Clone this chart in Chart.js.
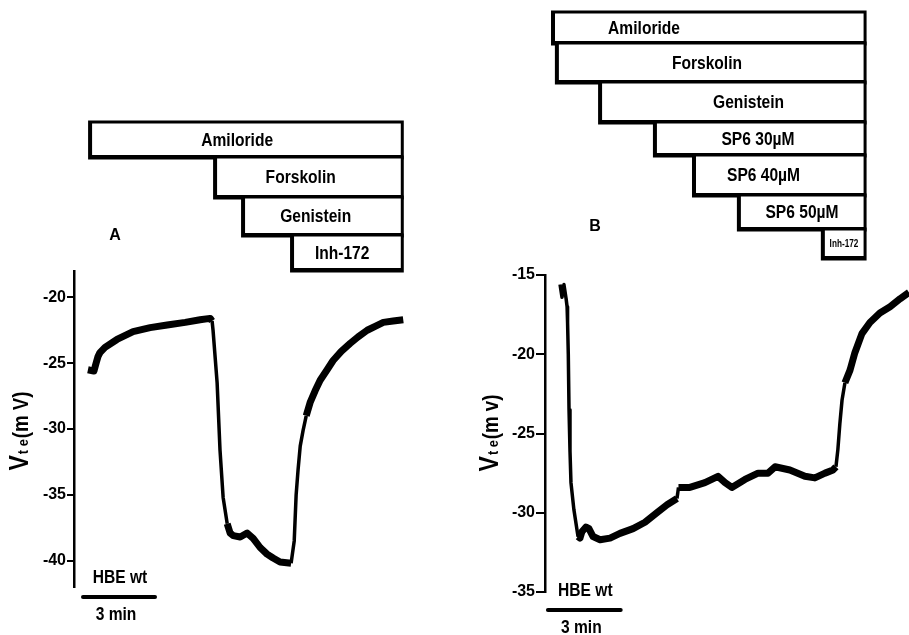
<!DOCTYPE html>
<html><head><meta charset="utf-8">
<script src="https://cdn.jsdelivr.net/npm/chart.js@4"></script>
<style>
html,body{margin:0;padding:0;background:#fff;}
#wrap{position:relative;width:909px;height:635px;overflow:hidden;background:#fff;}
#cA{position:absolute;left:0;top:0;}
#cB{position:absolute;left:450px;top:0;}
</style></head><body>
<div id="wrap"><canvas id="cA" width="450" height="635"></canvas><canvas id="cB" width="459" height="635"></canvas></div>
<script>
// ---------- DATA ----------
// Panel A: time (min) and Vte (mV)
const timeA = [0.58,0.83,0.92,1.0,1.08,1.29,1.79,2.46,3.17,3.88,4.63,5.25,5.67,5.75,5.79,5.96,6.08,6.21,6.38,6.5,6.63,6.92,7.21,7.46,7.75,8.04,8.29,8.58,9.04,9.17,9.25,9.33,9.42,9.54,9.67,9.83,10.04,10.25,10.54,10.79,11.13,11.5,11.83,12.21,12.54,12.88,13.29,13.71];
const vteA  = [-25.5,-25.6,-25.0,-24.5,-24.2,-23.8,-23.2,-22.6,-22.3,-22.1,-21.9,-21.7,-21.6,-21.8,-22.5,-26.5,-31.6,-35.2,-37.2,-37.9,-38.1,-38.2,-37.9,-38.3,-39.0,-39.5,-39.8,-40.1,-40.2,-38.5,-35.0,-33.1,-31.3,-30.1,-29.0,-28.0,-27.1,-26.3,-25.5,-24.8,-24.1,-23.5,-23.0,-22.5,-22.2,-21.9,-21.8,-21.7];
// Panel B
const timeB = [0.62,0.70,0.78,0.87,0.91,0.93,0.96,0.99,1.03,1.07,1.19,1.36,1.44,1.52,1.69,1.81,1.98,2.27,2.68,3.09,3.63,4.12,4.61,5.03,5.44,5.50,5.97,6.59,7.13,7.42,7.70,8.24,8.78,9.19,9.48,10.09,10.71,11.12,11.54,11.87,11.99,12.07,12.15,12.24,12.36,12.57,12.77,13.06,13.39,13.80,14.22,14.63,15.0];
const vteB  = [-15.6,-16.4,-15.6,-16.5,-17.0,-18.0,-20.0,-23.5,-26.1,-28.1,-29.8,-31.5,-31.6,-31.2,-30.9,-31.0,-31.5,-31.7,-31.6,-31.3,-31.0,-30.6,-30.0,-29.5,-29.1,-28.4,-28.4,-28.1,-27.7,-28.1,-28.4,-27.9,-27.5,-27.5,-27.1,-27.3,-27.7,-27.8,-27.5,-27.3,-27.1,-26.0,-24.4,-22.9,-21.8,-21.0,-19.9,-18.7,-18.0,-17.4,-17.0,-16.5,-16.1];
// Drug application bars (start time, min)
const drugsA = ['Amiloride','Forskolin','Genistein','Inh-172'];
const drugStartA = [0.67,5.875,7.04,9.08];
const drugEndA = 13.67;
const drugsB = ['Amiloride','Forskolin','Genistein','SP6 30\u00b5M','SP6 40\u00b5M','SP6 50\u00b5M','Inh-172'];
const drugStartB = [0.33,0.49,2.27,4.53,6.14,7.99,11.45];
const drugEndB = 13.19;
// Axis ticks
const ticksA = [-40,-35,-30,-25,-20];
const ticksB = [-35,-30,-25,-20,-15];
const scaleBarMin = 3;
const cellLabel = 'HBE wt';

// ---------- STYLE / LAYOUT ----------
const FW = '"Liberation Sans",Arial,sans-serif';
const SX = 0.82; // horizontal condensing of annotation text

function textN(ctx, str, x, y, sx) {
  ctx.save();
  ctx.translate(x, y);
  ctx.scale(sx, 1);
  ctx.fillText(str, 0, 0);
  ctx.restore();
}

function drawBox(ctx, x0, x1, y0, y1) {
  ctx.fillStyle = '#000';
  ctx.fillRect(x0 - 2, y0 - 1.5, x1 - x0 + 3.5, y1 - y0 + 4);
  ctx.fillStyle = '#fff';
  ctx.fillRect(x0 + 2, y0 + 1.5, x1 - x0 - 3.5, y1 - y0 - 3.5);
}

function drawVte(ctx, cx, cy, unit) {
  ctx.save();
  ctx.translate(cx, cy);
  ctx.rotate(-Math.PI / 2);
  ctx.fillStyle = '#000';
  ctx.textBaseline = 'alphabetic';
  ctx.textAlign = 'left';
  const s = 0.85;
  const fV = 'bold 27px ' + FW, fS = 'bold 15px ' + FW, fP = 'bold 22px ' + FW;
  ctx.font = fV; const wV = ctx.measureText('V').width * s;
  ctx.font = fS; const wS = ctx.measureText('t e').width * s;
  ctx.font = fP; const wP = ctx.measureText(unit).width * s;
  const total = wV + 1 + wS + 1 + wP;
  let x = -total / 2;
  ctx.font = fV; textN(ctx, 'V', x, 8, s); x += wV + 1;
  ctx.font = fS; textN(ctx, 't e', x, 8, s); x += wS + 1;
  ctx.font = fP; textN(ctx, unit, x, 8, s);
  ctx.restore();
}

function annPlugin(cfg) {
  return {
    id: 'ann',
    afterDraw(chart) {
      const ctx = chart.ctx, xs = chart.scales.x;
      ctx.save();
      // drug bars
      for (let i = 0; i < cfg.names.length; i++) {
        const x0 = xs.getPixelForValue(cfg.starts[i]);
        const x1 = xs.getPixelForValue(cfg.end);
        const y0 = cfg.tops[i], y1 = cfg.tops[i + 1];
        drawBox(ctx, x0, x1, y0, y1);
        ctx.fillStyle = '#000';
        ctx.font = 'bold ' + cfg.fontSizes[i] + 'px ' + FW;
        ctx.textAlign = 'center';
        ctx.textBaseline = 'middle';
        textN(ctx, cfg.names[i], (x0 + x1) / 2 + cfg.dx[i], (y0 + y1) / 2 + 1, SX);
      }
      // panel letter
      ctx.font = 'bold 16px ' + FW;
      ctx.textAlign = 'center'; ctx.textBaseline = 'middle';
      ctx.fillText(cfg.letter, cfg.letterX, cfg.letterY);
      // scale bar
      const bx0 = xs.getPixelForValue(cfg.barStart);
      const bx1 = xs.getPixelForValue(cfg.barStart + scaleBarMin);
      ctx.strokeStyle = '#000'; ctx.lineWidth = 4; ctx.lineCap = 'round';
      ctx.beginPath(); ctx.moveTo(bx0, cfg.barY); ctx.lineTo(bx1, cfg.barY); ctx.stroke();
      ctx.font = 'bold 19px ' + FW;
      textN(ctx, cellLabel, (bx0 + bx1) / 2 + 1, cfg.barY - 19, SX);
      textN(ctx, scaleBarMin + ' min', (bx0 + bx1) / 2 - 3, cfg.barY + 18, SX);
      // y title
      drawVte(ctx, cfg.titleX, cfg.titleY, cfg.unit);
      ctx.restore();
    }
  };
}

function makeChart(id, times, values, ymin, ymax, ticks, axisW, tickLen, pad, xmax, ann) {
  return new Chart(document.getElementById(id), {
    type: 'line',
    data: {
      datasets: [{
        data: times.map((t, i) => ({ x: t, y: values[i] })),
        borderColor: '#000',
        borderWidth: 7,
        pointRadius: 0,
        tension: 0,
        clip: false,
        borderJoinStyle: 'round',
        borderCapStyle: 'butt',
        segment: {
          borderWidth: c => Math.abs(c.p1.y - c.p0.y) > 4 * Math.abs(c.p1.x - c.p0.x) ? 3.5 : 7
        }
      }]
    },
    options: {
      responsive: false,
      animation: false,
      devicePixelRatio: 1,
      layout: { padding: pad },
      plugins: { legend: { display: false }, tooltip: { enabled: false } },
      scales: {
        x: { type: 'linear', min: 0, max: xmax, display: false },
        y: {
          type: 'linear', min: ymin, max: ymax,
          afterBuildTicks: s => { s.ticks = ticks.map(v => ({ value: v })); },
          afterFit: s => { s.width = axisW; },
          grid: { display: true, drawOnChartArea: false, drawTicks: true, tickLength: tickLen, color: '#000', lineWidth: 2 },
          border: { display: true, color: '#000', width: 2.5 },
          ticks: { color: '#000', font: { family: FW, size: 16, weight: 'bold' }, padding: 1 }
        }
      }
    },
    plugins: [annPlugin(ann)]
  });
}

makeChart('cA', timeA, vteA, -42, -18, ticksA, 74, 7, { left: 0, top: 271, right: 47, bottom: 48 }, 13.7, {
  names: drugsA, starts: drugStartA, end: drugEndA,
  tops: [122, 157, 197, 235, 270], dx: [-9, -8, -7, -5], fontSizes: [19, 19, 19, 19],
  letter: 'A', letterX: 115, letterY: 236,
  barStart: 0.375, barY: 597,
  titleX: 20, titleY: 431, unit: '(m V)'
});

makeChart('cB', timeB, vteB, -35, -15, ticksB, 95, 9, { left: 0, top: 275, right: 0, bottom: 43 }, 15, {
  names: drugsB, starts: drugStartB, end: drugEndB,
  tops: [12, 43, 82, 122, 155, 195, 229, 258], dx: [-65, -4, 16, -2, -16, 0, 0], fontSizes: [19, 19, 19, 19, 19, 19, 10],
  letter: 'B', letterX: 145, letterY: 227,
  barStart: 0.12, barY: 610,
  titleX: 40, titleY: 433, unit: '(m v)'
});
</script>
</body></html>
